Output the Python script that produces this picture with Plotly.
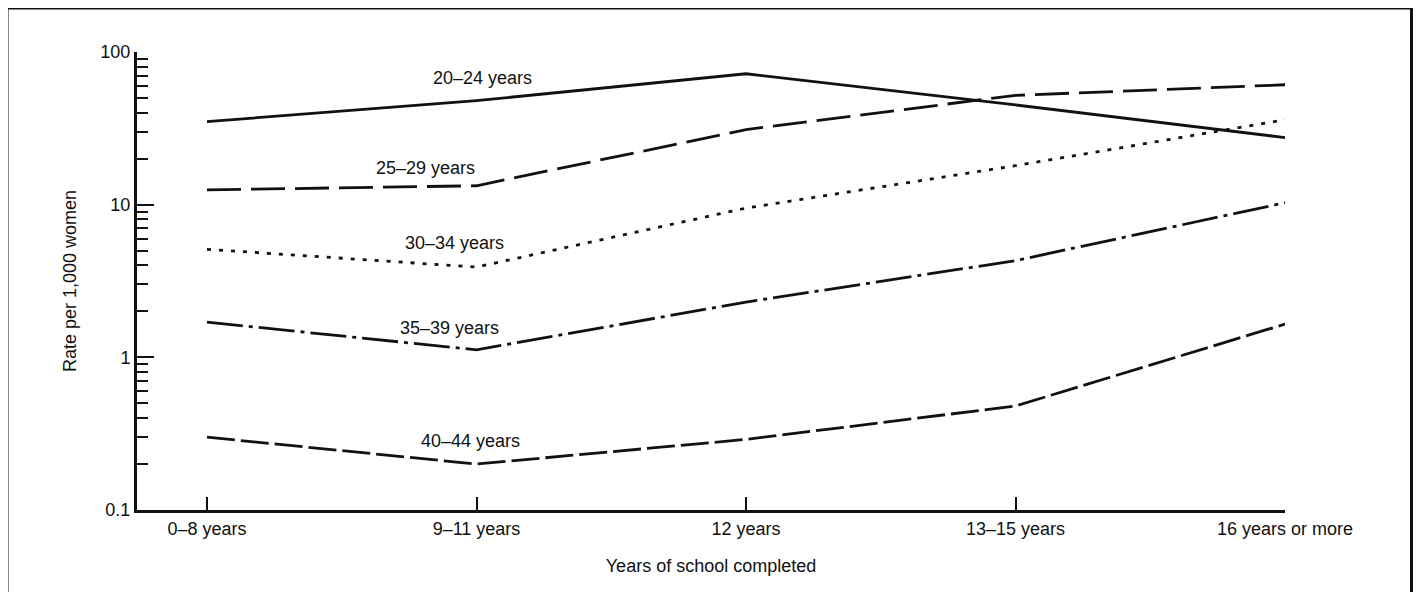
import plotly.graph_objects as go

categories = ["0–8 years", "9–11 years", "12 years", "13–15 years", "16 years or more"]
series_names = ["20–24 years", "25–29 years", "30–34 years", "35–39 years", "40–44 years"]
rate_20_24 = [35, 48, 72, 45, 27.5]
rate_25_29 = [12.5, 13.3, 31, 52, 61]
rate_30_34 = [5.1, 3.9, 9.5, 18, 36]
rate_35_39 = [1.7, 1.12, 2.3, 4.3, 10.3]
rate_40_44 = [0.30, 0.20, 0.29, 0.48, 1.65]
y_major_ticks = [0.1, 1, 10, 100]
y_major_labels = ["0.1", "1", "10", "100"]

series_values = [rate_20_24, rate_25_29, rate_30_34, rate_35_39, rate_40_44]
dashes = ["solid", "34px,10px", "4px,8px", "36px,6px,4px,6px", "28px,6px"]

# label positions (category index, log10 value)
label_x = [1.024, 0.809, 0.917, 0.898, 0.976]
label_logy = [1.830, 1.241, 0.750, 0.193, -0.547]

FONT = "Liberation Sans, Arial, Helvetica, sans-serif"
INK = "#111111"
FS = 18

# the page body has an 8px margin; compensate so the plot lands where the reference has it
BODY = 8
PLOT_L, PLOT_R, PLOT_T, PLOT_B = 137, 1285, 52, 510
W, H = 1405, 584

fig = go.Figure()
xs = list(range(len(categories)))
for name, vals, dash in zip(series_names, series_values, dashes):
    fig.add_trace(go.Scatter(x=xs, y=vals, mode="lines", name=name,
                             line=dict(color=INK, width=2.8, dash=dash),
                             showlegend=False))

for name, lx, ly in zip(series_names, label_x, label_logy):
    fig.add_annotation(x=lx, y=ly, text=name, showarrow=False,
                       font=dict(family=FONT, size=FS, color=INK))

minor_vals = [m * 10 ** k for k in (-1, 0, 1) for m in range(2, 10)]

ml = PLOT_L - BODY
mt = PLOT_T - BODY
mr = W - ml - (PLOT_R - PLOT_L)
mb = H - mt - (PLOT_B - PLOT_T)

fig.update_layout(
    width=W, height=H,
    margin=dict(l=ml, r=mr, t=mt, b=mb, pad=0),
    paper_bgcolor="white", plot_bgcolor="white",
    font=dict(family=FONT, size=FS, color=INK),
    xaxis=dict(
        range=[-70 / 269.5, 4], tickmode="array", tickvals=xs, ticktext=categories,
        showgrid=False, zeroline=False, showline=True, linecolor=INK, linewidth=3,
        ticks="inside", ticklen=13, tickwidth=1.5, tickcolor=INK,
        tickfont=dict(family=FONT, size=FS, color=INK),
        title=dict(text="Years of school completed", font=dict(family=FONT, size=FS, color=INK), standoff=22),
        automargin=False,
    ),
    yaxis=dict(
        type="log", range=[-1, 2], tickmode="array", tickvals=y_major_ticks, ticktext=y_major_labels,
        showgrid=False, zeroline=False, showline=True, linecolor=INK, linewidth=3,
        ticks="inside", ticklen=17, tickwidth=2, tickcolor=INK,
        tickfont=dict(family=FONT, size=FS, color=INK),
        minor=dict(tickvals=minor_vals, ticks="inside", ticklen=11, tickwidth=2, tickcolor=INK, showgrid=False),
        title=dict(text="Rate per 1,000 women", font=dict(family=FONT, size=FS, color=INK), standoff=20),
        automargin=False,
    ),
)

# outer frame around the figure
pw = PLOT_R - PLOT_L
ph = PLOT_B - PLOT_T
fig.add_shape(type="rect", xref="paper", yref="paper",
              x0=(7 - PLOT_L) / pw, x1=(1411.5 - PLOT_L) / pw,
              y0=-0.4, y1=(PLOT_B - 8) / ph,
              line=dict(color=INK, width=3), fillcolor="rgba(0,0,0,0)", layer="below")

fig.write_html("out.html")
